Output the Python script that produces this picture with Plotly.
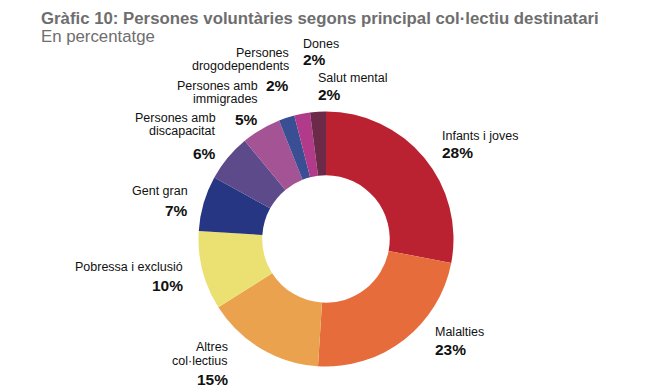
import plotly.graph_objects as go

# ---- data ----
categories = ["Infants i joves", "Malalties", "Altres col·lectius", "Pobressa i exclusió",
              "Gent gran", "Persones amb discapacitat", "Persones amb immigrades",
              "Persones drogodependents", "Dones", "Salut mental"]
label_lines = [["Infants i joves"], ["Malalties"], ["Altres", "col·lectius"],
               ["Pobressa i exclusió"], ["Gent gran"], ["Persones amb", "discapacitat"],
               ["Persones amb", "immigrades"], ["Persones", "drogodependents"],
               ["Dones"], ["Salut mental"]]
values = [28, 23, 15, 10, 7, 6, 5, 2, 2, 2]
colors = ["#BB2231", "#E66C3C", "#EBA24E", "#EBE172", "#263682",
          "#5C4A8A", "#A45394", "#394E93", "#B13A8B", "#6B2B48"]

title = "Gràfic 10: Persones voluntàries segons principal col·lectiu destinatari"
subtitle = "En percentatge"

# ---- layout (pixel positions) ----
W, H = 648, 388
# (anchor x, side, [name line y centres], pct y centre)
label_pos = [
    (432, "left", [128], 144),
    (425, "left", [324], 341),
    (222, "right", [339, 353], 371),
    (177, "right", [259], 277),
    (182, "right", [183], 202),
    (210, "right", [110, 123], 145),
    (252, "right", [78, 91], 111),
    (283, "right", [45, 58], 78),
    (293, "left", [36], 52),
    (308, "left", [70], 87),
]

FONT = "Liberation Sans, Arial, sans-serif"

def px(x):
    return x / W

def py(y):
    return 1 - y / H

fig = go.Figure(go.Pie(
    labels=categories,
    values=values,
    marker=dict(colors=colors, line=dict(width=0)),
    hole=0.5,
    sort=False,
    direction="clockwise",
    rotation=0,
    textinfo="none",
    hoverinfo="label+percent",
    showlegend=False,
    domain=dict(x=[px(190.5), px(445.5)], y=[py(358.5), py(103.5)]),
))

ann = []
for lines, v, (x, side, ys, pyc) in zip(label_lines, values, label_pos):
    xa = "left" if side == "left" else "right"
    for t, y in zip(lines, ys):
        ann.append(dict(x=px(x), y=py(y), xref="paper", yref="paper", text=t,
                        showarrow=False, xanchor=xa, yanchor="middle",
                        font=dict(family=FONT, size=12.5, color="#111111")))
    ann.append(dict(x=px(x), y=py(pyc), xref="paper", yref="paper", text=f"<b>{v}%</b>",
                    showarrow=False, xanchor=xa, yanchor="middle",
                    font=dict(family=FONT, size=15.5, color="#111111")))

ann.append(dict(x=px(31), y=py(10), xref="paper", yref="paper", text=f"<b>{title}</b>",
                showarrow=False, xanchor="left", yanchor="middle",
                font=dict(family=FONT, size=16.8, color="#6E6E6E")))
ann.append(dict(x=px(31), y=py(29), xref="paper", yref="paper", text=subtitle,
                showarrow=False, xanchor="left", yanchor="middle",
                font=dict(family=FONT, size=16.8, color="#6E6E6E")))

fig.update_layout(
    width=W, height=H,
    margin=dict(l=0, r=0, t=0, b=0),
    paper_bgcolor="white", plot_bgcolor="white",
    annotations=ann,
)

fig.write_html("out.html")
